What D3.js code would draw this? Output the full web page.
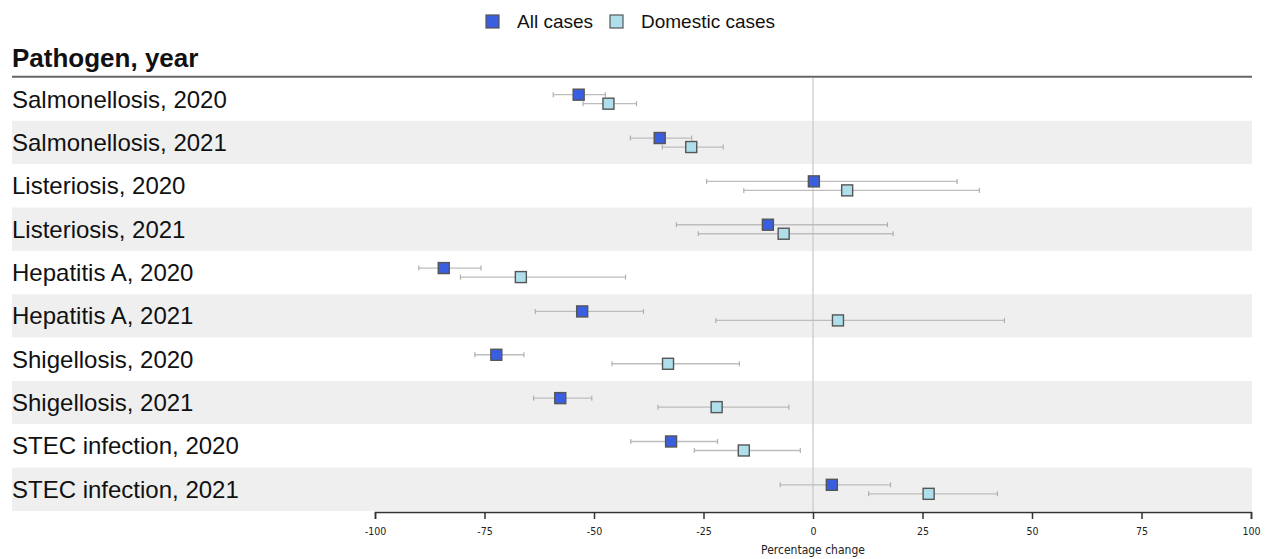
<!DOCTYPE html>
<html>
<head>
<meta charset="utf-8">
<script src="https://cdn.jsdelivr.net/npm/d3@7"></script>
<style>
  body { margin: 0; background: #fff; }
  svg text { font-family: "Liberation Sans", Arial, sans-serif; }
</style>
</head>
<body>
<div id="chart"></div>
<script>
// pathogen / year rows, top to bottom
var labels = ["Salmonellosis, 2020", "Salmonellosis, 2021", "Listeriosis, 2020", "Listeriosis, 2021",
  "Hepatitis A, 2020", "Hepatitis A, 2021", "Shigellosis, 2020", "Shigellosis, 2021",
  "STEC infection, 2020", "STEC infection, 2021"]

// all cases: estimate, lower, upper (percentage change)
var allEst = [-53.5, -35.0, 0.2, -10.3, -84.3, -52.7, -72.3, -57.7, -32.4, 4.3]
var allLo  = [-59.3, -41.7, -24.3, -31.2, -90.0, -63.4, -77.2, -63.8, -41.6, -7.5]
var allHi  = [-47.4, -27.7, 32.9, 17.0, -75.8, -38.7, -66.0, -50.5, -21.8, 17.7]

// domestic cases
var domEst = [-46.7, -27.8, 7.8, -6.7, -66.7, 5.7, -33.1, -22.0, -15.8, 26.4]
var domLo  = [-52.5, -34.4, -15.8, -26.2, -80.5, -22.2, -45.9, -35.4, -27.1, 12.7]
var domHi  = [-40.3, -20.5, 38.0, 18.3, -42.8, 43.7, -16.8, -5.5, -2.9, 42.1]

var ticks = [-100, -75, -50, -25, 0, 25, 50, 75, 100]
var series = ["All cases", "Domestic cases"]
var colors = ["#3a5ee0", "#aedfeb"]

var width = 1266, height = 559

var svg = d3.select("#chart").append("svg")
  .attr("width", width)
  .attr("height", height)

var x = d3.scaleLinear().domain([-100, 100]).range([375, 1251])
var y = d3.scaleBand().domain(labels).range([77.5, 511]).padding(0)

// row bands
svg.selectAll(".band")
  .data(labels)
  .enter()
  .append("rect")
  .attr("class", "band")
  .attr("x", 12)
  .attr("width", 1240)
  .attr("y", function(d) { return y(d) })
  .attr("height", y.bandwidth())
  .style("fill", function(d, i) { return i % 2 ? "#efefef" : "#fff" })

// zero line
svg.append("line")
  .attr("x1", x(0)).attr("x2", x(0))
  .attr("y1", 78).attr("y2", 512)
  .style("stroke", "#c8c8c8")
  .style("stroke-width", 1.2)

// header
svg.append("text")
  .attr("x", 12).attr("y", 67)
  .style("font-size", "26px")
  .style("font-weight", "bold")
  .style("fill", "#111")
  .text("Pathogen, year")

svg.append("line")
  .attr("x1", 12).attr("x2", 1252)
  .attr("y1", 76.8).attr("y2", 76.8)
  .style("stroke", "#666")
  .style("stroke-width", 2)

// row labels
svg.selectAll(".rowlab")
  .data(labels)
  .enter()
  .append("text")
  .attr("class", "rowlab")
  .attr("x", 12)
  .attr("y", function(d) { return y(d) + y.bandwidth() / 2 + 8.5 })
  .style("font-size", "24px")
  .style("fill", "#111")
  .text(function(d) { return d })

// points + intervals
function drawSeries(est, lo, hi, off, fill) {
  var data = labels.map(function(d, i) { return {label: d, est: est[i], lo: lo[i], hi: hi[i]} })
  var g = svg.append("g")
  var rows = g.selectAll("g")
    .data(data)
    .enter()
    .append("g")
    .attr("transform", function(d) { return "translate(0," + (y(d.label) + y.bandwidth() / 2 + off) + ")" })

  rows.append("line")
    .attr("x1", function(d) { return x(d.lo) })
    .attr("x2", function(d) { return x(d.hi) })
    .style("stroke", "#bdbdbd")
    .style("stroke-width", 1.3)

  rows.selectAll(".cap")
    .data(function(d) { return [d.lo, d.hi] })
    .enter()
    .append("line")
    .attr("x1", function(v) { return x(v) })
    .attr("x2", function(v) { return x(v) })
    .attr("y1", -2.5).attr("y2", 2.5)
    .style("stroke", "#b0b0b0")
    .style("stroke-width", 1.2)

  rows.append("rect")
    .attr("x", function(d) { return x(d.est) - 5.5 })
    .attr("y", -5.5)
    .attr("width", 11).attr("height", 11)
    .style("fill", fill)
    .style("stroke", "#555")
    .style("stroke-width", 1.4)
}

drawSeries(allEst, allLo, allHi, -4.5, colors[0])
drawSeries(domEst, domLo, domHi, 4.5, colors[1])

// axis
var axis = svg.append("g")
  .attr("transform", "translate(0,512)")
  .call(d3.axisBottom(x).tickValues(ticks).tickSize(7).tickFormat(function(d) { return d }))

axis.select(".domain").style("stroke", "#333").style("stroke-width", 1.5)
axis.selectAll(".tick line").style("stroke", "#333").style("stroke-width", 1.5)
axis.selectAll(".tick text")
  .attr("y", 16)
  .style("font-family", "'DejaVu Sans Condensed', 'Liberation Sans Narrow', sans-serif")
  .style("font-size", "10.5px")
  .style("fill", "#222")

svg.append("text")
  .attr("x", x(0)).attr("y", 554)
  .attr("text-anchor", "middle")
  .style("font-family", "'DejaVu Sans Condensed', 'Liberation Sans Narrow', sans-serif")
  .style("font-size", "12px")
  .style("fill", "#222")
  .text("Percentage change")

// legend
var legX = [486, 610]
var legend = svg.selectAll(".leg")
  .data(series)
  .enter()
  .append("g")
  .attr("class", "leg")
  .attr("transform", function(d, i) { return "translate(" + legX[i] + ",15)" })

legend.append("rect")
  .attr("width", 13).attr("height", 13)
  .style("fill", function(d, i) { return colors[i] })
  .style("stroke", "#555")
  .style("stroke-width", 1.2)

legend.append("text")
  .attr("x", 31).attr("y", 13)
  .style("font-size", "19px")
  .style("fill", "#111")
  .text(function(d) { return d })
</script>
</body>
</html>
